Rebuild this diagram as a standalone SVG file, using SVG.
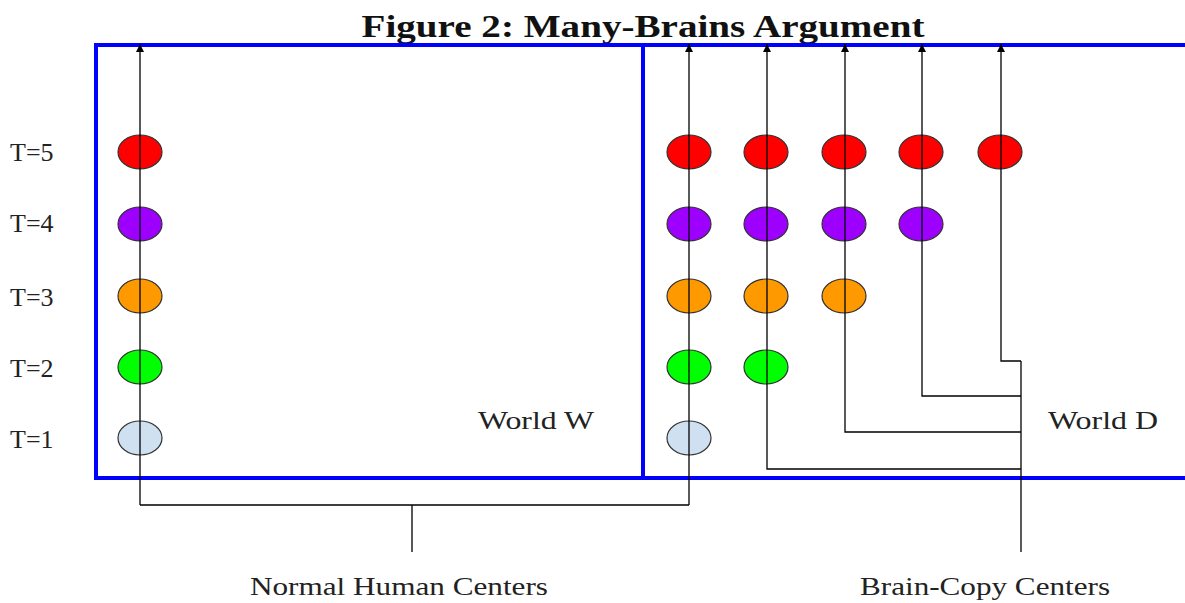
<svg xmlns="http://www.w3.org/2000/svg" width="1185" height="603" viewBox="0 0 1185 603">
<defs>
<style>
.box{fill:none;stroke:#0000ff;stroke-width:4}
.ln{fill:none;stroke:#000;stroke-width:1.3}
.e{stroke:#333;stroke-width:1.2}
.r{fill:#ff0000}.p{fill:#9d00ff}.o{fill:#ff9900}.g{fill:#00ff00}.b{fill:#cfe0f1}
.t{font-family:"Liberation Serif",serif;font-size:26px;fill:#222}
.ti{font-family:"Liberation Serif",serif;font-size:32px;font-weight:bold;fill:#111}
</style>
<marker id="ah" markerWidth="8" markerHeight="8" refX="8" refY="4" orient="auto" markerUnits="userSpaceOnUse" viewBox="0 0 8 8">
<path d="M0,0 L8,4 L0,8 Z" fill="#000"/>
</marker>
</defs>
<rect width="1185" height="603" fill="#fff"/>
<text class="ti" x="643" y="37" text-anchor="middle" textLength="563" lengthAdjust="spacingAndGlyphs">Figure 2: Many-Brains Argument</text>
<g id="worlds">
<path class="box" d="M1187,45 H96 V478 H1187"/>
<line class="box" x1="643" y1="45" x2="643" y2="478"/>
</g>
<g id="labels">
<text class="t" x="10" y="161">T=5</text>
<text class="t" x="10" y="232">T=4</text>
<text class="t" x="10" y="306">T=3</text>
<text class="t" x="10" y="377">T=2</text>
<text class="t" x="10" y="448">T=1</text>
<text class="t" x="478" y="429" textLength="116" lengthAdjust="spacingAndGlyphs">World W</text>
<text class="t" x="1048" y="429" textLength="110" lengthAdjust="spacingAndGlyphs">World D</text>
<text class="t" x="250" y="595" textLength="298" lengthAdjust="spacingAndGlyphs">Normal Human Centers</text>
<text class="t" x="860" y="595" textLength="250" lengthAdjust="spacingAndGlyphs">Brain-Copy Centers</text>
</g>
<g id="nodes">
<g id="w-col">
<ellipse class="e r" cx="140" cy="152" rx="22" ry="17"/>
<ellipse class="e p" cx="140" cy="224" rx="22" ry="17"/>
<ellipse class="e o" cx="140" cy="296" rx="22" ry="17"/>
<ellipse class="e g" cx="140" cy="367" rx="22" ry="17"/>
<ellipse class="e b" cx="140" cy="438" rx="22" ry="17"/>
</g>
<g id="d-col1">
<ellipse class="e r" cx="689" cy="152" rx="22" ry="17"/>
<ellipse class="e p" cx="689" cy="224" rx="22" ry="17"/>
<ellipse class="e o" cx="689" cy="296" rx="22" ry="17"/>
<ellipse class="e g" cx="689" cy="367" rx="22" ry="17"/>
<ellipse class="e b" cx="689" cy="438" rx="22" ry="17"/>
</g>
<g id="d-col2">
<ellipse class="e r" cx="766" cy="152" rx="22" ry="17"/>
<ellipse class="e p" cx="766" cy="224" rx="22" ry="17"/>
<ellipse class="e o" cx="766" cy="296" rx="22" ry="17"/>
<ellipse class="e g" cx="766" cy="367" rx="22" ry="17"/>
</g>
<g id="d-col3">
<ellipse class="e r" cx="844" cy="152" rx="22" ry="17"/>
<ellipse class="e p" cx="844" cy="224" rx="22" ry="17"/>
<ellipse class="e o" cx="844" cy="296" rx="22" ry="17"/>
</g>
<g id="d-col4">
<ellipse class="e r" cx="921" cy="152" rx="22" ry="17"/>
<ellipse class="e p" cx="921" cy="224" rx="22" ry="17"/>
</g>
<g id="d-col5">
<ellipse class="e r" cx="1000" cy="152" rx="22" ry="17"/>
</g>
</g>
<g id="connectors">
<path class="ln" d="M412,552 V505 M140,505 H689" />
<path class="ln" marker-end="url(#ah)" d="M140,505 V44"/>
<path class="ln" marker-end="url(#ah)" d="M689,505 V44"/>
<path class="ln" marker-end="url(#ah)" d="M1021,469 H767 V44"/>
<path class="ln" marker-end="url(#ah)" d="M1021,432 H845 V44"/>
<path class="ln" marker-end="url(#ah)" d="M1021,396 H922 V44"/>
<path class="ln" marker-end="url(#ah)" d="M1021,361 H1001 V44"/>
<path class="ln" d="M1021,361 V552"/>
</g>
</svg>
